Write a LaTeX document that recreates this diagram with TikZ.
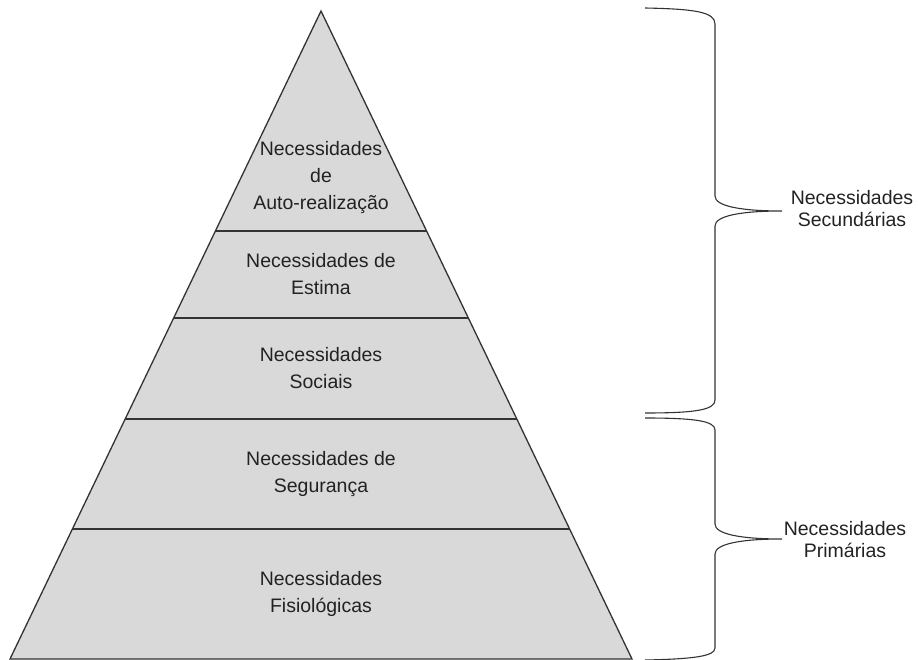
\documentclass[tikz,border=0pt]{standalone}
\usepackage{fontspec}
\setmainfont{Liberation Sans}
\usetikzlibrary{calc}
\definecolor{levelfill}{HTML}{D9D9D9}
\definecolor{linegray}{HTML}{333333}
\definecolor{textgray}{HTML}{222222}
\begin{document}
\begin{tikzpicture}[x=1pt,y=-1pt,
    level/.style={align=center,text=textgray,font=\fontsize{19.5}{27}\selectfont},
    group/.style={align=center,text=textgray,font=\fontsize{19.5}{22}\selectfont},
    edge/.style={draw=linegray,line width=1.3pt}]
  \useasboundingbox (0,0) rectangle (918,660);
  % pyramid
  \coordinate (top) at (321,11);
  \coordinate (bl) at (10,659);
  \coordinate (br) at (632,659);
  \draw[edge,fill=levelfill] (top) -- (bl) -- (br) -- cycle;
  \foreach \t/\n in {0.3395/a,0.4738/b,0.6296/c,0.7994/d} {
    \coordinate (l\n) at ($(top)!\t!(bl)$);
    \coordinate (r\n) at ($(top)!\t!(br)$);
    \draw[edge] (l\n) -- (r\n);
  }
  \node[level] (auto) at (321,178) {Necessidades\\de\\Auto-realização};
  \node[level] (estima) at (321,274.5) {Necessidades de\\Estima};
  \node[level] (sociais) at (321,368.5) {Necessidades\\Sociais};
  \node[level] (seguranca) at (321,474) {Necessidades de\\Segurança};
  \node[level] (fisio) at (321,594) {Necessidades\\Fisiológicas};
  % braces
  \coordinate (sectip) at (782,211);
  \coordinate (pritip) at (782,539);
  \begin{scope}[edge,line width=1.1pt]
    \draw (645,8) .. controls (695,9) and (715,12) .. (715,24) -- (715,196)
      .. controls (715,206) and (740,211) .. (sectip)
      .. controls (740,211) and (715,216) .. (715,226) -- (715,400)
      .. controls (715,410) and (695,413) .. (645,413);
    \draw (645,418) .. controls (695,418) and (715,421) .. (715,430) -- (715,524)
      .. controls (715,534) and (740,539) .. (pritip)
      .. controls (740,539) and (715,544) .. (715,554) -- (715,648)
      .. controls (715,656) and (695,659) .. (645,660);
  \end{scope}
  \node[group] (secundarias) at (852,209) {Necessidades\\Secundárias};
  \node[group] (primarias) at (845,540) {Necessidades\\Primárias};
\end{tikzpicture}
\end{document}
